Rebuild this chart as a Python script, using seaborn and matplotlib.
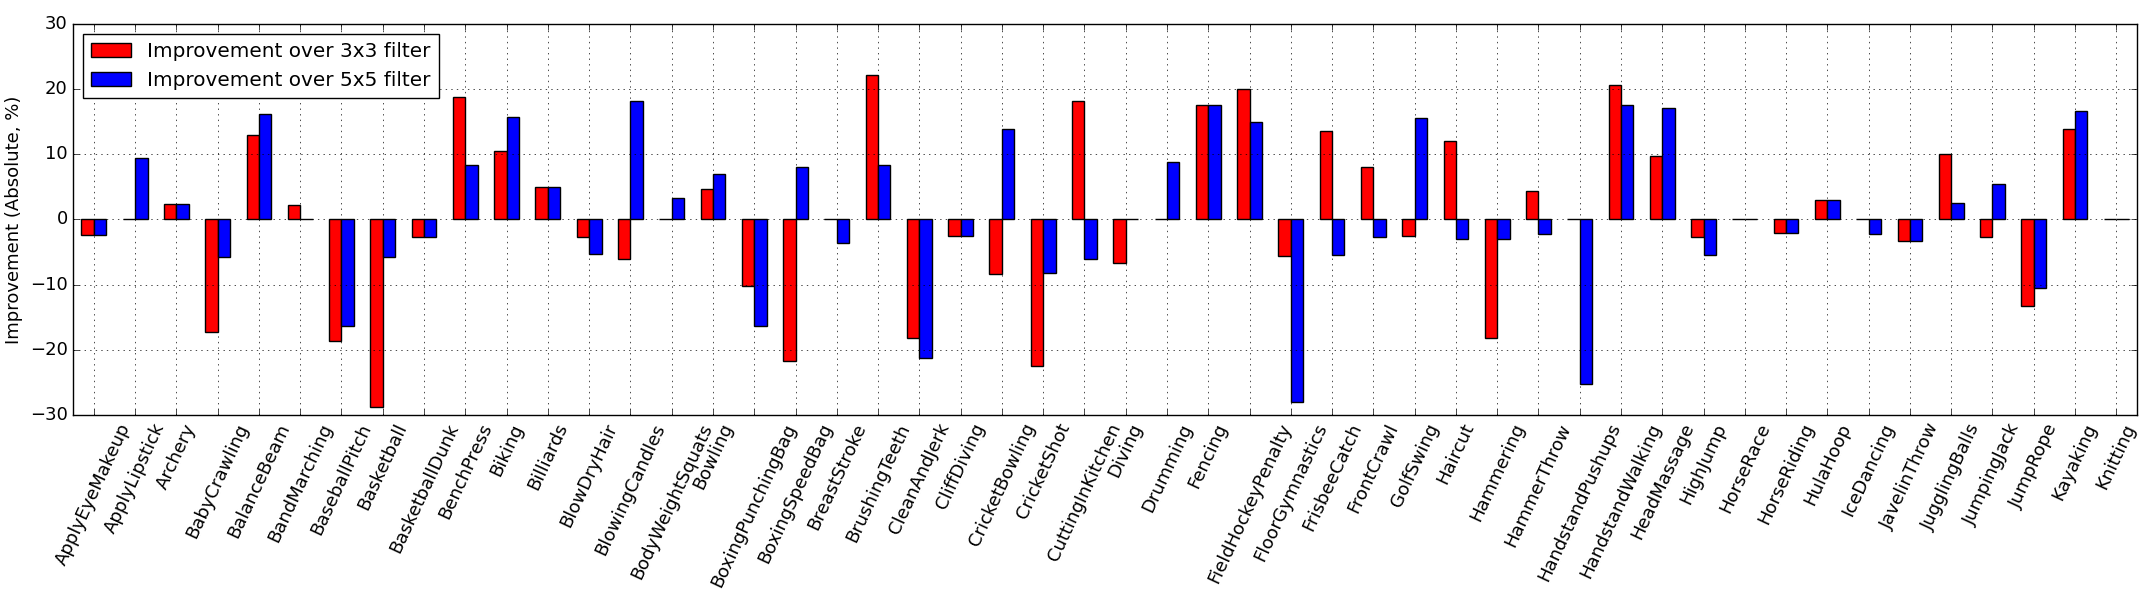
import matplotlib
matplotlib.use("Agg")
import matplotlib.pyplot as plt
import seaborn as sns
import pandas as pd

# -----------------------------
# Data
# -----------------------------
categories = [
    "ApplyEyeMakeup", "ApplyLipstick", "Archery", "BabyCrawling", "BalanceBeam",
    "BandMarching", "BaseballPitch", "Basketball", "BasketballDunk", "BenchPress",
    "Biking", "Billiards", "BlowDryHair", "BlowingCandles", "BodyWeightSquats",
    "Bowling", "BoxingPunchingBag", "BoxingSpeedBag", "BreastStroke", "BrushingTeeth",
    "CleanAndJerk", "CliffDiving", "CricketBowling", "CricketShot", "CuttingInKitchen",
    "Diving", "Drumming", "Fencing", "FieldHockeyPenalty", "FloorGymnastics",
    "FrisbeeCatch", "FrontCrawl", "GolfSwing", "Haircut", "Hammering",
    "HammerThrow", "HandstandPushups", "HandstandWalking", "HeadMassage", "HighJump",
    "HorseRace", "HorseRiding", "HulaHoop", "IceDancing", "JavelinThrow",
    "JugglingBalls", "JumpingJack", "JumpRope", "Kayaking", "Knitting",
]

improve_3x3 = [
    -2.4, 0, 2.4, -17.3, 13.0, 2.2, -18.7, -28.8, -2.7, 18.8,
    10.5, 5.0, -2.7, -6.0, 0, 4.7, -10.2, -21.7, 0, 22.1,
    -18.2, -2.5, -8.3, -22.5, 18.2, -6.6, 0, 17.6, 20.0, -5.6,
    13.6, 8.1, -2.5, 12.0, -18.2, 4.3, 0, 20.6, 9.7, -2.7,
    0, -2.1, 3.0, 0, -3.3, 10.0, -2.7, -13.2, 13.9, 0,
]

improve_5x5 = [
    -2.4, 9.4, 2.4, -5.8, 16.2, 0, -16.3, -5.8, -2.7, 8.4,
    15.7, 5.0, -5.3, 18.2, 3.3, 7.0, -16.3, 8.1, -3.6, 8.4,
    -21.3, -2.5, 13.9, -8.2, -6.0, 0, 8.8, 17.6, 15.0, -28.0,
    -5.5, -2.7, 15.5, -3.0, -3.0, -2.2, -25.2, 17.6, 17.1, -5.5,
    0, -2.1, 3.0, -2.2, -3.3, 2.6, 5.5, -10.5, 16.7, 0,
]

series_names = ["Improvement over 3x3 filter", "Improvement over 5x5 filter"]
series_colors = ["red", "blue"]

df = pd.DataFrame({
    "action": categories * 2,
    "series": [series_names[0]] * len(categories) + [series_names[1]] * len(categories),
    "value": improve_3x3 + improve_5x5,
})

# -----------------------------
# Style (old matplotlib look)
# -----------------------------
plt.style.use("classic")
plt.rcParams["font.family"] = ["DejaVu Sans"]
plt.rcParams["font.size"] = 13
plt.rcParams["figure.facecolor"] = "white"
plt.rcParams["savefig.facecolor"] = "white"

fig, ax = plt.subplots(figsize=(21.47, 5.93), dpi=100)
fig.subplots_adjust(left=0.0341, right=0.9953, top=0.9595, bottom=0.3002)

sns.barplot(data=df, x="action", y="value", hue="series",
            order=categories, hue_order=series_names,
            palette=dict(zip(series_names, series_colors)),
            width=0.6, errorbar=None, edgecolor="black", linewidth=1,
            saturation=1, ax=ax)

ax.set_ylim(-30, 30)
ax.set_yticks(range(-30, 31, 10))
ax.set_xlim(-0.5, len(categories) - 0.5)
ax.set_xlabel("")
ax.set_ylabel("Improvement (Absolute, %)")
plt.setp(ax.get_xticklabels(), rotation=65, ha="center")
ax.grid(True, linestyle=":", color="k", linewidth=0.5)
ax.set_axisbelow(False)

# legend with the two bar colours
if ax.get_legend() is not None:
    ax.get_legend().remove()
handles = [c.patches[0] for c in ax.containers]
ax.legend(handles, series_names, loc="upper left", fontsize=14.4)

fig.savefig("out.png", dpi=100)
